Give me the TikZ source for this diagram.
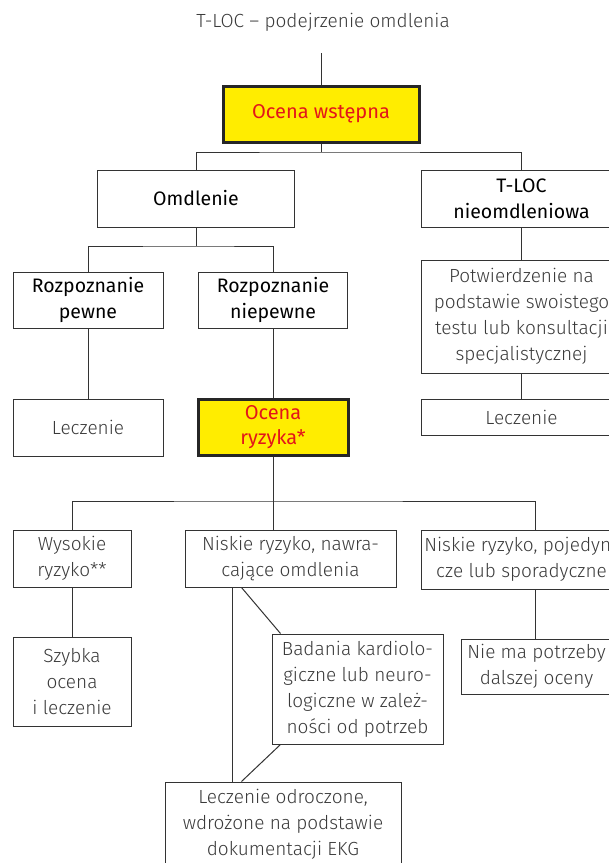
\documentclass[tikz,border=0pt]{standalone}
\usepackage{fontspec}
\setmainfont{Fira Sans}
\newfontfamily\lightfont{Fira Sans Light}
\definecolor{framegray}{HTML}{333333}
\definecolor{textgray}{HTML}{3A3A3A}
\definecolor{markyellow}{HTML}{FFED00}
\definecolor{markred}{HTML}{E3151A}
\tikzset{
  box/.style={draw=framegray, line width=1pt, rectangle, inner sep=0pt, align=center,
              font=\lightfont\fontsize{19}{26}\selectfont, text=textgray},
  darkbox/.style={box, font=\fontsize{19.5}{26}\selectfont, text=black},
  keybox/.style={box, draw=black!85, line width=3pt, fill=markyellow,
                 font=\fontsize{20}{25}\selectfont, text=markred},
  link/.style={draw=framegray, line width=1pt},
}
\begin{document}
\begin{tikzpicture}[x=1pt,y=-1pt]
\path[use as bounding box] (0,0) rectangle (609,863);
\clip (0,0) rectangle (609,863);
\fill[white] (0,0) rectangle (609,863);

% title and first assessment
\node[font=\lightfont\fontsize{19}{26}\selectfont, text=textgray] (title) at (323,22) {T-LOC – podejrzenie omdlenia};
\node[keybox, minimum width=196, minimum height=56] (ow) at (321,114) {Ocena wstępna};
\coordinate (start) at (321,53);

% second level
\node[darkbox, minimum width=197, minimum height=57] (omd) at (196,198.5) {Omdlenie};
\node[darkbox, minimum width=201, minimum height=57] (tloc) at (521.5,198.5) {T-LOC\\nieomdleniowa};

% syncope branch
\node[darkbox, minimum width=150, minimum height=56] (pew) at (88,300) {Rozpoznanie\\pewne};
\node[darkbox, minimum width=149, minimum height=56] (niep) at (273,300) {Rozpoznanie\\niepewne};
\node[box, minimum width=150, minimum height=57] (lecz1) at (88,427.5) {Leczenie};
\node[keybox, minimum width=150, minimum height=56] (ryz) at (273,427) {Ocena\\ryzyka*};

% non-syncopal branch
\node[box, minimum width=201, minimum height=113] (potw) at (521.5,316.5) {Potwierdzenie na\\podstawie swoistego\\testu lub konsultacji\\specjalistycznej};
\node[box, minimum width=201, minimum height=36] (lecz2) at (521.5,417) {Leczenie};

% risk stratification
\node[box, minimum width=118, minimum height=57] (wys) at (72,558.5) {Wysokie\\ryzyko**};
\node[box, minimum width=211, minimum height=57] (nn) at (290.5,558.5) {Niskie ryzyko, nawra-\\cające omdlenia};
\node[box, minimum width=201, minimum height=59] (np) at (521.5,559.5) {Niskie ryzyko, pojedyn-\\cze lub sporadyczne};
\node[box, minimum width=118, minimum height=89] (szyb) at (72,681.5) {Szybka\\ocena\\i leczenie};
\node[box, minimum width=171, minimum height=110] (bad) at (357.5,689) {Badania kardiolo-\\giczne lub neuro-\\logiczne w zależ-\\ności od potrzeb};
\node[box, minimum width=151, minimum height=55] (nmp) at (536.5,666.5) {Nie ma potrzeby\\dalszej oceny};
\node[box, minimum width=236, minimum height=84] (lod) at (283,824) {Leczenie odroczone,\\wdrożone na podstawie\\dokumentacji EKG};

% junctions
\coordinate (j1) at (321,152);
\coordinate (j2) at (196,246);
\coordinate (j3) at (273,501);
\coordinate (xa) at (232,0);
\coordinate (xb) at (535,0);

% connectors
\draw[link] (start) -- (ow.north);
\draw[link] (ow.south) -- (j1);
\draw[link] (omd.north) |- (j1) -| (tloc.north);
\draw[link] (omd.south) -- (j2);
\draw[link] (pew.north) |- (j2) -| (niep.north);
\draw[link] (pew.south) -- (lecz1.north);
\draw[link] (niep.south) -- (ryz.north);
\draw[link] (tloc.south) -- (potw.north);
\draw[link] (potw.south) -- (lecz2.north);
\draw[link] (ryz.south) -- (ryz.south |- nn.north);
\draw[link] (wys.north) |- (j3) -| (xb |- np.north);
\draw[link] (wys.south) -- (szyb.north);
\draw[link] (xb |- np.south) -- (xb |- nmp.north);
\draw[link] (xa |- nn.south) -- (xa |- lod.north);
\draw[link] ([xshift=57pt]nn.south west) -- ([xshift=9pt]bad.north west);
\draw[link] ([xshift=9pt]bad.south west) -- ([xshift=77pt]lod.north west);
\end{tikzpicture}
\end{document}
